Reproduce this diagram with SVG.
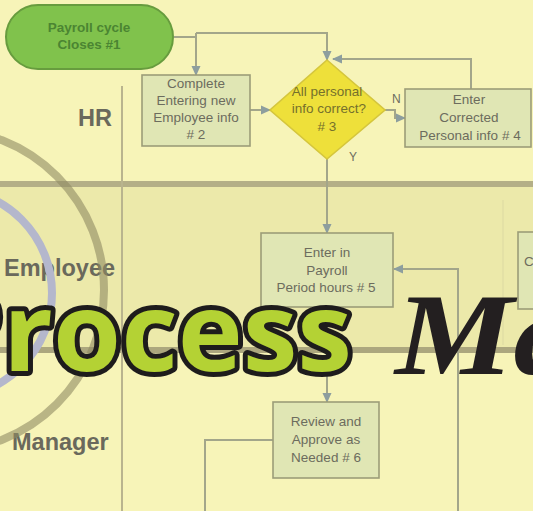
<svg xmlns="http://www.w3.org/2000/svg" width="533" height="511" viewBox="0 0 533 511">
<style>
.box{fill:#e0e6b4;stroke:#9c9d78;stroke-width:1.6}
.bt{font-family:"Liberation Sans",Arial,sans-serif;font-size:13.5px;fill:#6c6c5e;text-anchor:middle}
.dt{font-family:"Liberation Sans",Arial,sans-serif;font-size:13.5px;fill:#75702c;text-anchor:middle}
.pt{font-family:"Liberation Sans",Arial,sans-serif;font-size:13.5px;font-weight:bold;fill:#4b8532;text-anchor:middle}
.lane{font-family:"Liberation Sans",Arial,sans-serif;font-size:23.5px;font-weight:bold;fill:#6a695c}
.yn{font-family:"Liberation Sans",Arial,sans-serif;font-size:12px;fill:#6c6c5e}
.con{fill:none;stroke:#a3a68a;stroke-width:2}
.conA{fill:none;stroke:#a3a68a;stroke-width:2;marker-end:url(#ah)}
</style>
<defs>
<marker id="ah" markerUnits="userSpaceOnUse" markerWidth="10" markerHeight="10" viewBox="0 0 10 10" refX="9" refY="5" orient="auto">
<path d="M0,0.5 L10,5 L0,9.5 Z" fill="#8d9e9e"/>
</marker>
</defs>
<!-- background & lanes -->
<rect x="0" y="0" width="533" height="511" fill="#f7f4b8"/>
<rect x="0" y="184" width="533" height="166" fill="#ece9aa"/>
<rect x="0" y="181" width="533" height="6" fill="#b4af87"/>
<rect x="0" y="347" width="533" height="6" fill="#aca77e"/>
<line x1="122" y1="86" x2="122" y2="511" stroke="#b9b48e" stroke-width="2"/>
<line x1="503" y1="200" x2="503" y2="345" stroke="#e2dea4" stroke-width="1.5"/>

<g id="lanes">
<text class="lane" x="78" y="126">HR</text>
<text class="lane" x="4" y="276">Employee</text>
<text class="lane" x="12" y="450">Manager</text>
</g>

<g id="connectors">
<path class="con" d="M174,37 H196"/>
<path class="conA" d="M196,33 V75"/>
<path class="conA" d="M196,33 H327 V60"/>
<path class="conA" d="M250,110 H270"/>
<path class="conA" d="M471,89 V59 H333"/>
<path class="conA" d="M385,110 H395 V118 H405"/>
<path class="conA" d="M327,159 V233"/>
<path class="conA" d="M327,307 V402"/>
<path class="con" d="M273,440 H205 V511"/>
<path class="conA" d="M458,511 V269 H394"/>
<text class="yn" x="392" y="103">N</text>
<text class="yn" x="349" y="161">Y</text>
</g>

<g id="n1">
<rect x="6" y="5" width="167" height="64" rx="32" ry="32" fill="#80c24c" stroke="#679c3e" stroke-width="2"/>
<text class="pt" x="89" y="32">Payroll cycle</text>
<text class="pt" x="89" y="49">Closes #1</text>
</g>
<g id="n2">
<rect class="box" x="142" y="75" width="108" height="71"/>
<text class="bt" x="196" y="88">Complete</text>
<text class="bt" x="196" y="105">Entering new</text>
<text class="bt" x="196" y="122">Employee info</text>
<text class="bt" x="196" y="139"># 2</text>
</g>
<g id="n3">
<path d="M327,60 L385,110 L327,159 L270,110 Z" fill="#eee03a" stroke="#d5c63c" stroke-width="1.6"/>
<text class="dt" x="327" y="96">All personal</text>
<text class="dt" x="329" y="113">info correct?</text>
<text class="dt" x="327" y="131"># 3</text>
</g>
<g id="n4">
<rect class="box" x="405" y="89" width="126" height="58"/>
<text class="bt" x="469" y="104">Enter</text>
<text class="bt" x="469" y="122">Corrected</text>
<text class="bt" x="470" y="140">Personal info # 4</text>
</g>
<g id="n5">
<rect class="box" x="261" y="233" width="132" height="74"/>
<text class="bt" x="327" y="257">Enter in</text>
<text class="bt" x="327" y="275">Payroll</text>
<text class="bt" x="326" y="292">Period hours # 5</text>
</g>
<g id="n6">
<rect class="box" x="273" y="402" width="106" height="76"/>
<text class="bt" x="326" y="426">Review and</text>
<text class="bt" x="326" y="444">Approve as</text>
<text class="bt" x="326" y="462">Needed # 6</text>
</g>
<g id="n7">
<rect class="box" x="518" y="232" width="20" height="77"/>
<text class="bt" x="524" y="266" style="text-anchor:start">C</text>
</g>

<!-- overlay rings -->
<circle cx="-57" cy="290" r="161" fill="none" stroke="#8f8a62" stroke-opacity="0.6" stroke-width="8"/>
<circle cx="-52" cy="293" r="104" fill="none" stroke="#b4b7cc" stroke-width="8"/>

<!-- title overlay -->
<text x="-66" y="371" font-family="'Open Sans',sans-serif" font-weight="bold" font-size="110" fill="#b4d234" stroke="#1e1c1c" stroke-width="10" stroke-linejoin="round" paint-order="stroke">Process</text>
<text transform="translate(395,374) scale(1.15,1)" x="0" y="0" font-family="'Liberation Serif',serif" font-weight="bold" font-style="italic" font-size="116" fill="#231f20">Ma</text>
</svg>
